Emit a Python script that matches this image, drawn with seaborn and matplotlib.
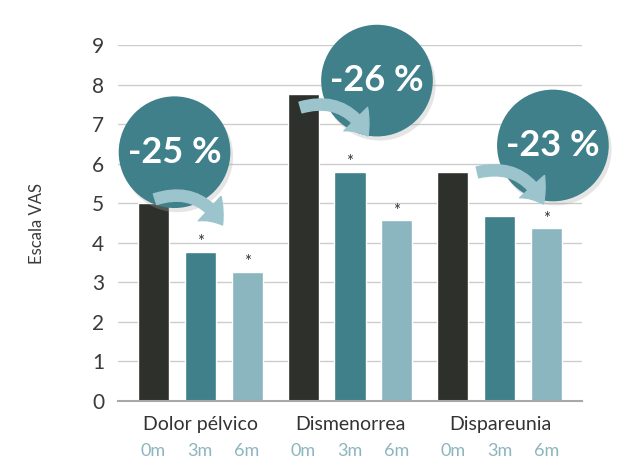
import pandas as pd
import seaborn as sns
import matplotlib.pyplot as plt
from matplotlib.patches import FancyArrowPatch
import matplotlib.patheffects as pe

# Data
categories = ['Dolor pélvico', 'Dismenorrea', 'Dispareunia']
times = ['0m', '3m', '6m']
vas_0m = [5.0, 7.75, 5.8]
vas_3m = [3.77, 5.8, 4.67]
vas_6m = [3.27, 4.57, 4.37]
# asterisk marks (significant vs baseline)
sig_3m = [True, True, False]
sig_6m = [True, True, True]
reductions = ['-25 %', '-26 %', '-23 %']

colors = ['#2d302b', '#3f808b', '#8bb5bf']
arrow_color = '#9bc4cd'

df = pd.DataFrame({
    'Categoria': categories * 3,
    'Tiempo': [t for t in times for _ in categories],
    'VAS': vas_0m + vas_3m + vas_6m,
})

sns.set_style('white')
plt.rcParams['font.family'] = ['Lato', 'DejaVu Sans']

fig = plt.figure(figsize=(6.28, 4.68), dpi=100)
ax = fig.add_axes([118 / 628, 1 - 401 / 468, 464 / 628, 356 / 468])

sns.barplot(data=df, x='Categoria', y='VAS', hue='Tiempo', order=categories,
            hue_order=times, palette=colors, width=0.94, gap=0.34,
            saturation=1, legend=False, ax=ax, zorder=2)

ax.set_ylim(0, 9)
ax.set_xlim(-0.547, 2.547)
ax.set_yticks(range(10))
ax.yaxis.grid(True, color='#cccccc', linewidth=1, zorder=0)
ax.set_axisbelow(True)
for s in ['top', 'right', 'left']:
    ax.spines[s].set_visible(False)
ax.spines['bottom'].set_color('#a8a8a8')
ax.spines['bottom'].set_linewidth(1.5)
ax.tick_params(axis='y', length=0, labelsize=15, labelcolor='#3a3a3a', pad=10)
ax.set_xlabel('')
ax.set_ylabel('Escala VAS', fontsize=12, color='#3a3a3a', labelpad=34)

# bar centres, grouped per hue level
bars = ax.patches[:9]
centres = [b.get_x() + b.get_width() / 2 for b in bars]

ax.xaxis.remove_overlapping_locs = False
ax.set_xticks(range(3))
ax.set_xticklabels(categories)
ax.tick_params(axis='x', which='major', length=0, labelsize=14,
               labelcolor='#333333', pad=11)
ax.set_xticks(centres, minor=True)
ax.set_xticklabels([t for t in times for _ in categories], minor=True)
ax.tick_params(axis='x', which='minor', length=0, labelsize=13,
               labelcolor='#8cb5be', pad=30)

# asterisks
for i in range(3):
    for flags, k in [(sig_3m, 1), (sig_6m, 2)]:
        if flags[i]:
            b = bars[k * 3 + i]
            ax.annotate('*', (b.get_x() + b.get_width() / 2, b.get_height()),
                        xytext=(0, 1), textcoords='offset points',
                        ha='center', va='bottom', fontsize=12, color='#333333')

# reduction bubbles and arrows (placement in data units)
bubble_pos = [(-0.17, 6.29), (1.18, 8.1), (2.353, 6.46)]
arrow_pos = [((-0.30, 5.1), (0.15, 4.45)),
             ((0.67, 7.42), (1.12, 6.7)),
             ((1.85, 5.78), (2.29, 4.98))]
for i in range(3):
    t = ax.text(*bubble_pos[i], reductions[i], ha='center', va='center',
                fontsize=26, fontweight='bold', color='white', zorder=5,
                bbox=dict(boxstyle='circle,pad=0.25', fc='#3f808b', ec='none'))
    t.get_bbox_patch().set_path_effects(
        [pe.SimplePatchShadow(offset=(2, -3), shadow_rgbFace='#aaaaaa', alpha=0.3),
         pe.Normal()])
    arr = FancyArrowPatch(arrow_pos[i][0], arrow_pos[i][1],
                          connectionstyle='arc3,rad=-0.4',
                          arrowstyle='simple,head_length=0.75,head_width=1.2,tail_width=0.4',
                          mutation_scale=20, color=arrow_color, zorder=6,
                          shrinkA=0, shrinkB=0)
    ax.add_patch(arr)

fig.savefig('out.png', dpi=100)
